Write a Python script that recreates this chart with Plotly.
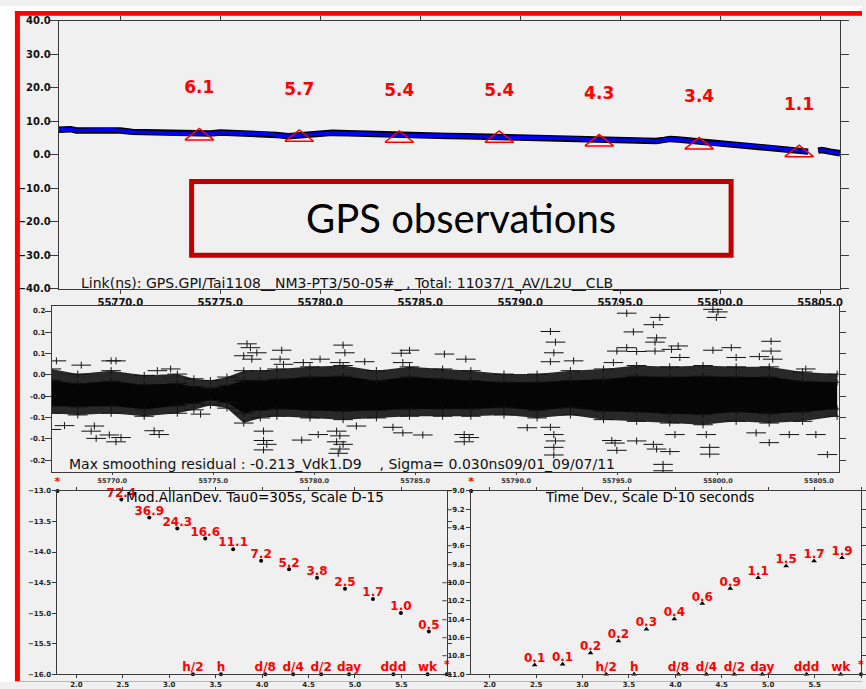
import numpy as np
import plotly.graph_objects as go

W, H = 866, 689


def fx(px):
    return px / W


def fy(py):
    return 1 - py / H


# ---------------- Link (ns) time series ----------------
link_mjd = [55766.9, 55767.5, 55767.8, 55768.5, 55769.5, 55770.0, 55770.6, 55771.5,
            55772.3, 55773.0, 55773.9, 55774.5, 55775.0, 55775.6, 55776.5, 55777.2,
            55777.8, 55778.4, 55778.9, 55779.5, 55780.2, 55780.6, 55781.4, 55782.2,
            55783.0, 55783.9, 55784.5, 55785.4, 55786.4, 55787.3, 55788.1, 55788.9,
            55789.8, 55790.6, 55791.3, 55792.0, 55792.8, 55793.4, 55794.0, 55794.6,
            55795.3, 55795.7, 55796.2, 55796.8, 55797.2, 55797.5, 55797.9, 55798.3,
            55798.9, 55799.5, 55800.3, 55801.1, 55801.6, 55802.1, 55802.6, 55803.1,
            55803.7, 55804.4, None, 55804.9, 55805.1, 55805.5, 55806.0]
link_ns = [7.4, 7.6, 7.2, 7.3, 7.4, 7.2, 6.8, 6.6,
           6.5, 6.3, 6.1, 6.3, 6.6, 6.5, 6.4, 6.3,
           5.9, 5.5, 5.8, 6.1, 6.3, 6.5, 6.4, 6.2,
           6.0, 5.8, 5.7, 5.7, 5.6, 5.5, 5.4, 5.3,
           5.2, 5.1, 5.0, 4.9, 4.8, 4.5, 4.3, 4.4,
           4.2, 4.3, 4.3, 4.1, 4.4, 4.7, 4.5, 4.3,
           3.8, 3.4, 3.2, 2.9, 2.6, 2.4, 2.1, 1.7,
           1.3, 0.9, None, 1.2, 1.4, 0.9, 0.4]

# 5-day bin means of the link
bin_mjd = [55773.95, 55778.95, 55783.95, 55788.95, 55793.95, 55798.95, 55803.95]
bin_mean = [6.1, 5.7, 5.4, 5.4, 4.3, 3.4, 1.1]

# ---------------- smoothing residuals (ns) ----------------
band_mjd = [55766.98, 55768.29, 55769.94, 55771.58, 55773.22, 55774.04, 55774.86,
            55775.68, 55776.51, 55777.33, 55778.15, 55779.79, 55781.43, 55783.08,
            55784.72, 55786.36, 55787.76, 55789.40, 55791.04, 55792.69, 55794.33,
            55795.97, 55797.61, 55799.26, 55800.90, 55802.54, 55804.19, 55805.90]
# outer (sparser) envelope of the residual cloud
band_hi = [0.039, 0.027, 0.035, 0.024, 0.027, 0.016, 0.012,
           0.020, 0.035, 0.035, 0.039, 0.044, 0.047, 0.035,
           0.044, 0.039, 0.035, 0.027, 0.027, 0.035, 0.039,
           0.047, 0.044, 0.047, 0.044, 0.044, 0.032, 0.027]
band_lo = [-0.065, -0.069, -0.065, -0.072, -0.065, -0.057, -0.046,
           -0.053, -0.088, -0.076, -0.072, -0.076, -0.080, -0.076,
           -0.072, -0.072, -0.072, -0.069, -0.076, -0.069, -0.080,
           -0.084, -0.088, -0.092, -0.084, -0.088, -0.084, -0.072]
# dense core of the residual cloud
core_hi = [0.012, 0.005, 0.010, 0.002, 0.005, -0.002, -0.006,
           0.000, 0.012, 0.012, 0.015, 0.020, 0.022, 0.012,
           0.020, 0.015, 0.012, 0.008, 0.008, 0.012, 0.015,
           0.022, 0.020, 0.022, 0.020, 0.020, 0.010, 0.008]
core_lo = [-0.048, -0.050, -0.048, -0.055, -0.048, -0.042, -0.035,
           -0.040, -0.065, -0.058, -0.055, -0.058, -0.060, -0.058,
           -0.055, -0.055, -0.055, -0.052, -0.058, -0.052, -0.060,
           -0.062, -0.066, -0.068, -0.062, -0.066, -0.062, -0.055]

out_mjd = [55767.23, 55768.46, 55769.94, 55770.18, 55766.98, 55767.63, 55769.11, 55768.95,
           55769.20, 55769.85, 55770.18, 55770.43, 55772.07, 55772.32, 55772.23, 55772.89,
           55774.37, 55776.67, 55776.84, 55776.51, 55776.91, 55777.16, 55778.39, 55778.31,
           55778.48, 55777.49, 55777.49, 55777.65, 55777.49, 55779.46, 55780.29, 55779.38,
           55780.20, 55781.43, 55781.52, 55781.27, 55781.11, 55781.27, 55781.11, 55781.43,
           55781.27, 55781.19, 55782.50, 55782.09, 55784.39, 55784.31, 55784.72, 55784.39,
           55785.38, 55783.90, 55786.45, 55787.51, 55787.43, 55787.43, 55787.68, 55790.55,
           55791.70, 55791.95, 55791.87, 55791.70, 55792.85, 55791.87, 55791.95, 55791.87,
           55791.87, 55791.70, 55794.74, 55794.99, 55794.90, 55795.48, 55795.81, 55795.48,
           55794.99, 55795.97, 55794.82, 55795.97, 55796.80, 55796.96, 55797.62, 55797.12,
           55796.80, 55796.96, 55796.88, 55796.88, 55797.70, 55798.03, 55798.11, 55797.87,
           55799.75, 55800.00, 55799.92, 55799.75, 55800.66, 55799.59, 55799.59, 55799.42,
           55802.63, 55802.63, 55802.05, 55802.71, 55802.54, 55803.53, 55804.85, 55805.42,
           55804.35, 55800.90, 55801.89, 55797.28, 55797.28]
out_res = [0.058, 0.048, 0.058, 0.058, -0.103, -0.094, -0.095, -0.107,
           -0.124, -0.116, -0.132, -0.122, -0.106, -0.115, 0.035, 0.039,
           -0.067, 0.098, 0.089, 0.070, 0.062, 0.077, 0.083, 0.062,
           0.050, -0.107, -0.129, -0.138, -0.151, 0.054, 0.062, -0.128,
           -0.115, 0.095, 0.077, 0.054, -0.107, -0.118, -0.132, -0.138,
           -0.149, -0.159, 0.056, -0.095, 0.054, 0.076, 0.083, -0.111,
           -0.116, -0.098, 0.074, 0.062, -0.115, -0.132, -0.122, -0.099,
           0.127, 0.102, 0.077, 0.056, 0.058, -0.115, -0.130, -0.145,
           -0.163, -0.098, -0.129, -0.152, -0.135, 0.170, 0.126, 0.089,
           0.081, 0.080, 0.054, -0.130, -0.138, -0.149, -0.155, 0.160,
           0.143, 0.112, 0.102, 0.081, 0.085, 0.093, 0.066, -0.115,
           0.179, 0.173, 0.160, 0.083, 0.089, -0.145, -0.161, -0.115,
           0.104, 0.081, 0.068, 0.062, -0.134, -0.115, -0.115, -0.162,
           0.039, 0.066, -0.111, -0.185, -0.200]

res_tickvals = [0.175, 0.125, 0.075, 0.025, -0.025, -0.075, -0.125, -0.175]
res_ticktext = ["0.2", "0.1", "0.1", "0.0", "-0.0", "-0.1", "-0.1", "-0.2"]

# ---------------- stability ----------------
tau_s = [305, 610, 1220, 2440, 4880, 9760, 19520, 39040, 78080, 156160, 312320, 624640]
mdev_e15 = [72.4, 36.9, 24.3, 16.6, 11.1, 7.2, 5.2, 3.8, 2.5, 1.7, 1.0, 0.5]
tdev_e10 = [0.126, 0.128, 0.17, 0.23, 0.31, 0.40, 0.59, 0.86, 1.13, 1.52, 1.72, 1.87]

ref_names = ["h/2", "h", "d/8", "d/4", "d/2", "day", "ddd", "wk"]
ref_sec = [1800, 3600, 10800, 21600, 43200, 86400, 259200, 604800]

mdev_xrange = [1.796, 5.99]
mdev_yrange = [-16.0, -13.0]
tdev_xrange = [1.80, 6.0]
tdev_yrange = [-11.0, -9.0]

RED = "#ff0000"
AX = "#3a3a3a"
BG = "#f0f0f0"
FONT = "DejaVu Sans"

# label lift above each point, in axis units (about 6 px on each panel)
MDEV_LIFT = 0.096
TDEV_LIFT = 0.064

log_tau = np.log10(tau_s)
log_mdev = np.log10(np.array(mdev_e15) * 1e-15)
log_tdev = np.log10(np.array(tdev_e10) * 1e-10)
log_ref = np.log10(ref_sec)

red_lbl = dict(family=FONT, size=12, color=RED, weight="bold")

fig = go.Figure()

# --- top panel: link ---
fig.add_trace(go.Scatter(x=link_mjd, y=link_ns, mode="lines",
                         line=dict(color="#000000", width=6.5), xaxis="x", yaxis="y",
                         connectgaps=False, hoverinfo="skip"))
fig.add_trace(go.Scatter(x=link_mjd, y=link_ns, mode="lines",
                         line=dict(color="#0000ff", width=3.5), xaxis="x", yaxis="y",
                         connectgaps=False))

# open flat triangles centred on each bin mean
tri_half_w, tri_half_h = 0.72, 1.7
tri_x, tri_y = [], []
for m, v in zip(bin_mjd, bin_mean):
    tri_x += [m - tri_half_w, m, m + tri_half_w, m - tri_half_w, None]
    tri_y += [v - tri_half_h, v + tri_half_h, v - tri_half_h, v - tri_half_h, None]
fig.add_trace(go.Scatter(x=tri_x, y=tri_y, mode="lines",
                         line=dict(color=RED, width=1.5), xaxis="x", yaxis="y"))
fig.add_trace(go.Scatter(x=bin_mjd, y=[v + 13.5 for v in bin_mean], mode="text",
                         text=[f"{v:.1f}" for v in bin_mean],
                         textfont=dict(family=FONT, size=17, color=RED, weight="bold"),
                         xaxis="x", yaxis="y"))

# --- middle panel: residuals ---
fig.add_trace(go.Scatter(x=band_mjd, y=band_lo, mode="lines", line=dict(width=0, color="#333"),
                         xaxis="x2", yaxis="y2", hoverinfo="skip"))
fig.add_trace(go.Scatter(x=band_mjd, y=band_hi, mode="lines", line=dict(width=0, color="#333"),
                         fill="tonexty", fillcolor="#282828", xaxis="x2", yaxis="y2"))
fig.add_trace(go.Scatter(x=band_mjd, y=core_lo, mode="lines", line=dict(width=0, color="#000"),
                         xaxis="x2", yaxis="y2", hoverinfo="skip"))
fig.add_trace(go.Scatter(x=band_mjd, y=core_hi, mode="lines", line=dict(width=0, color="#000"),
                         fill="tonexty", fillcolor="#050505", xaxis="x2", yaxis="y2"))
cross_x = band_mjd + band_mjd + band_mjd + band_mjd + out_mjd
cross_y = band_hi + band_lo + core_hi + core_lo + out_res
fig.add_trace(go.Scatter(x=cross_x, y=cross_y, mode="markers",
                         marker=dict(symbol="line-ew", size=14, line=dict(width=1, color="#111")),
                         xaxis="x2", yaxis="y2"))
fig.add_trace(go.Scatter(x=cross_x, y=cross_y, mode="markers",
                         marker=dict(symbol="line-ns", size=5, line=dict(width=1, color="#111")),
                         xaxis="x2", yaxis="y2"))

# --- bottom left: modified Allan deviation ---
fig.add_trace(go.Scatter(x=log_tau, y=log_mdev, mode="markers",
                         marker=dict(symbol="circle", size=4, color="#000"),
                         cliponaxis=False, xaxis="x3", yaxis="y3"))
fig.add_trace(go.Scatter(x=log_tau, y=log_mdev + MDEV_LIFT, mode="text",
                         text=[f"{v:.1f}" for v in mdev_e15], textfont=red_lbl,
                         cliponaxis=False, xaxis="x3", yaxis="y3"))
fig.add_trace(go.Scatter(x=log_ref, y=[mdev_yrange[0]] * len(ref_sec), mode="markers",
                         marker=dict(symbol="circle", size=4, color="#000"),
                         cliponaxis=False, xaxis="x3", yaxis="y3"))
fig.add_trace(go.Scatter(x=log_ref, y=[mdev_yrange[0] + MDEV_LIFT] * len(ref_sec), mode="text",
                         text=ref_names, textfont=red_lbl,
                         cliponaxis=False, xaxis="x3", yaxis="y3"))
fig.add_trace(go.Scatter(x=[mdev_xrange[0], mdev_xrange[1]], y=[mdev_yrange[1], mdev_yrange[0]],
                         mode="markers+text", marker=dict(size=4, color="#000"),
                         text=["*", "*"], textposition="top center",
                         textfont=dict(family=FONT, size=11, color=RED, weight="bold"),
                         cliponaxis=False, xaxis="x3", yaxis="y3"))

# --- bottom right: time deviation ---
fig.add_trace(go.Scatter(x=log_tau, y=log_tdev, mode="markers",
                         marker=dict(symbol="triangle-up", size=5, color="#000"),
                         cliponaxis=False, xaxis="x4", yaxis="y4"))
fig.add_trace(go.Scatter(x=log_tau, y=log_tdev + TDEV_LIFT, mode="text",
                         text=[f"{v:.1f}" for v in tdev_e10], textfont=red_lbl,
                         cliponaxis=False, xaxis="x4", yaxis="y4"))
fig.add_trace(go.Scatter(x=log_ref, y=[tdev_yrange[0]] * len(ref_sec), mode="markers",
                         marker=dict(symbol="triangle-up", size=5, color="#000"),
                         cliponaxis=False, xaxis="x4", yaxis="y4"))
fig.add_trace(go.Scatter(x=log_ref, y=[tdev_yrange[0] + TDEV_LIFT] * len(ref_sec), mode="text",
                         text=ref_names, textfont=red_lbl,
                         cliponaxis=False, xaxis="x4", yaxis="y4"))
fig.add_trace(go.Scatter(x=[tdev_xrange[0], tdev_xrange[1]], y=[tdev_yrange[1], tdev_yrange[0]],
                         mode="markers+text", marker=dict(size=4, color="#000"),
                         text=["*", "*"], textposition="top center",
                         textfont=dict(family=FONT, size=11, color=RED, weight="bold"),
                         cliponaxis=False, xaxis="x4", yaxis="y4"))


def axis(**kw):
    base = dict(showline=True, linecolor=AX, linewidth=1, mirror="ticks", ticks="outside",
                tickcolor=AX, tickwidth=1, showgrid=False, zeroline=False, fixedrange=True)
    base.update(kw)
    return base


tick_big = dict(family=FONT, size=10, color="#111", weight="bold")
tick_small = dict(family=FONT, size=7, color="#222", weight="bold")

mjd_ticks = [55770, 55775, 55780, 55785, 55790, 55795, 55800, 55805]

fig.update_layout(
    width=W, height=H, margin=dict(l=0, r=0, t=0, b=0),
    paper_bgcolor=BG, plot_bgcolor=BG, showlegend=False,
    xaxis=axis(domain=[fx(59), fx(844)], anchor="y", range=[55766.92, 55806.0],
               tickvals=mjd_ticks, tickformat=".1f", ticklen=4, tickfont=tick_big),
    yaxis=axis(domain=[fy(288), fy(15)], anchor="x", range=[-40, 40], dtick=10,
               tickformat=".1f", ticklen=8, tickfont=tick_big, ticklabelstandoff=-3),
    xaxis2=axis(domain=[fx(52), fx(843)], anchor="y2", range=[55767.0, 55806.0],
                tickvals=mjd_ticks, tickformat=".1f", ticklen=2,
                tickfont=dict(family=FONT, size=6.5, color="#333", weight="bold")),
    yaxis2=axis(domain=[fy(475), fy(305.7)], anchor="x2", range=[-0.203, 0.187],
                tickvals=res_tickvals, ticktext=res_ticktext, ticklen=6,
                tickfont=tick_small, ticklabelstandoff=-2),
    xaxis3=axis(domain=[fx(57.7), fx(449)], anchor="y3", range=mdev_xrange, dtick=0.5,
                tick0=2.0, tickformat=".1f", ticklen=3, tickfont=tick_small),
    yaxis3=axis(domain=[fy(681), fy(494.3)], anchor="x3", range=mdev_yrange, dtick=0.5,
                tickformat=".1f", ticklen=4, tickfont=tick_small),
    xaxis4=axis(domain=[fx(473.3), fx(865)], anchor="y4", range=tdev_xrange, dtick=0.5,
                tick0=2.0, tickformat=".1f", ticklen=3, tickfont=tick_small),
    yaxis4=axis(domain=[fy(681), fy(494.3)], anchor="x4", range=tdev_yrange, dtick=0.2,
                tickformat=".1f", ticklen=4, tickfont=tick_small),
)

# page frame: white margin and red border
fig.add_shape(type="rect", xref="paper", yref="paper", x0=0, x1=fx(15), y0=0, y1=1,
              fillcolor="#ffffff", line_width=0, layer="below")
fig.add_shape(type="rect", xref="paper", yref="paper", x0=0, x1=1, y0=fy(5), y1=1,
              fillcolor="#ffffff", line_width=0, layer="below")
fig.add_shape(type="rect", xref="paper", yref="paper", x0=fx(15), x1=fx(20), y0=0, y1=fy(5),
              fillcolor=RED, line_width=0, layer="below")
fig.add_shape(type="rect", xref="paper", yref="paper", x0=fx(15), x1=1, y0=fy(10), y1=fy(5),
              fillcolor=RED, line_width=0, layer="below")
fig.add_shape(type="rect", xref="paper", yref="paper", x0=fx(15), x1=1, y0=0, y1=fy(688),
              fillcolor="#ff9a9a", line_width=0, layer="below")

# callout box
fig.add_shape(type="rect", xref="paper", yref="paper", x0=fx(192.5), x1=fx(734.5),
              y0=fy(254), y1=fy(179), line=dict(color="#c00000", width=5),
              fillcolor="rgba(0,0,0,0)", layer="above")
fig.add_annotation(text="GPS observations", xref="paper", yref="paper",
                   x=fx(463.5), y=fy(216.5), showarrow=False, xanchor="center", yanchor="middle",
                   font=dict(family="Lato", size=40, color="#000"))

fig.add_annotation(text="Link(ns): GPS.GPI/Tai1108__NM3-PT3/50-05#_ , Total: 11037/1_AV/L2U__CLB_______________",
                   xref="paper", yref="paper", x=fx(79), y=fy(282), showarrow=False,
                   xanchor="left", yanchor="middle", font=dict(family=FONT, size=14, color="#111"))
fig.add_annotation(text="Max smoothing residual : -0.213_Vdk1.D9\u00a0\u00a0\u00a0\u00a0, Sigma= 0.030ns09/01_09/07/11",
                   xref="paper", yref="paper", x=fx(67), y=fy(466.5), showarrow=False,
                   xanchor="left", yanchor="middle", font=dict(family=FONT, size=14, color="#111"))
fig.add_annotation(text="Mod.AllanDev. Tau0=305s, Scale D-15", xref="paper", yref="paper",
                   x=fx(256), y=fy(500.5), showarrow=False, xanchor="center", yanchor="middle",
                   font=dict(family=FONT, size=13.5, color="#000"))
fig.add_annotation(text="Time Dev., Scale D-10 seconds", xref="paper", yref="paper",
                   x=fx(653), y=fy(500.5), showarrow=False, xanchor="center", yanchor="middle",
                   font=dict(family=FONT, size=13.5, color="#000"))

fig.write_html("out.html")
